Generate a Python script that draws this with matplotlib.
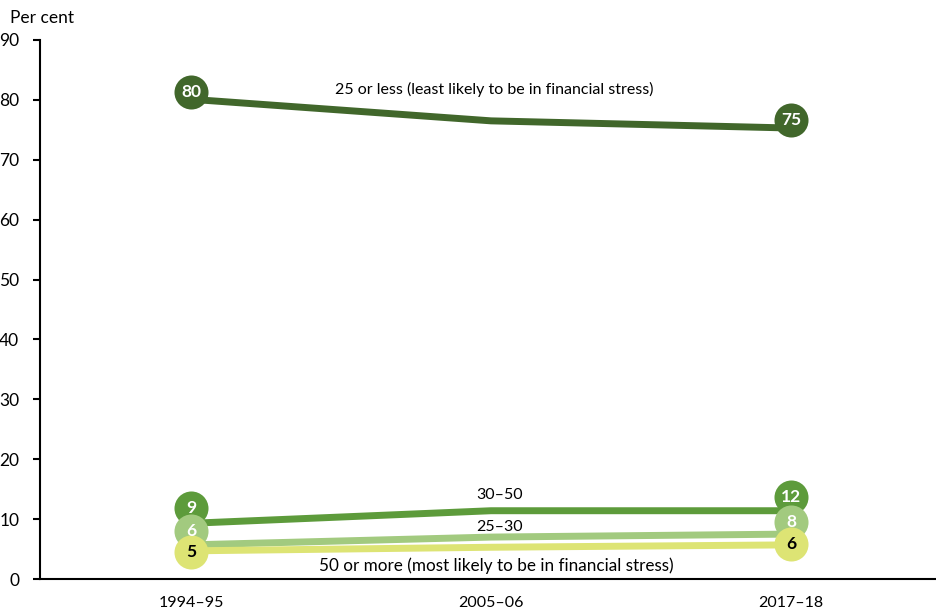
import matplotlib.pyplot as plt

plt.rcParams['font.family'] = ['Lato', 'DejaVu Sans']

years = ["1994–95", "2005–06", "2017–18"]

# share of households by housing cost ratio group (per cent)
low = [80.1, 76.5, 75.3]       # 25 or less
mid = [9.3, 11.4, 11.4]        # 30–50
lowmid = [5.7, 7.0, 7.5]       # 25–30
high = [4.7, 5.3, 5.7]         # 50 or more

# rounded values shown in the end-point circles
low_lab = ["80", "75"]
mid_lab = ["9", "12"]
lowmid_lab = ["6", "8"]
high_lab = ["5", "6"]

# vertical spots of the circles (nudged so they don't overlap)
low_pos = [81.3, 76.6]
mid_pos = [11.9, 13.7]
lowmid_pos = [8.0, 9.5]
high_pos = [4.5, 5.8]

c_low = "#41672b"
c_mid = "#5d9b3b"
c_lowmid = "#a2ca7f"
c_high = "#dde474"

fig = plt.figure(figsize=(9.36, 6.08), dpi=100)
ax = fig.add_axes([40 / 936, 29 / 608, 896 / 936, 539 / 608])

x = range(len(years))
series = [
    (low, low_lab, low_pos, c_low, "white"),
    (mid, mid_lab, mid_pos, c_mid, "white"),
    (lowmid, lowmid_lab, lowmid_pos, c_lowmid, "white"),
    (high, high_lab, high_pos, c_high, "black"),
]
for vals, labs, pos, col, tcol in series:
    ax.plot(x, vals, color=col, lw=5, solid_capstyle="butt", zorder=2)

for vals, labs, pos, col, tcol in series:
    ends = [0, len(years) - 1]
    for i, e in enumerate(ends):
        ax.plot(e, pos[i], "o", ms=24.5, color=col, mec="none", zorder=3)
        ax.text(e, pos[i], labs[i], ha="center", va="center", color=tcol,
                fontsize=12.5, fontweight="bold", zorder=4)

ax.text(1.01, 81.8, "25 or less (least likely to be in financial stress)",
        ha="center", va="center", fontsize=11.5)
ax.text(1.03, 14.0, "30–50", ha="center", va="center", fontsize=11.5)
ax.text(1.03, 8.7, "25–30", ha="center", va="center", fontsize=11.5)
ax.text(1.017, 2.3, "50 or more (most likely to be in financial stress)",
        ha="center", va="center", fontsize=12.3)

ax.set_xlim(-0.503, 2.483)
ax.set_ylim(0, 90)
ax.set_yticks(range(0, 91, 10))
ax.set_xticks(list(x))
ax.set_xticklabels(years)
ax.tick_params(axis="x", length=0, pad=12, labelsize=11.5)
ax.tick_params(axis="y", length=5, width=1.5, labelsize=12.5, pad=10)

for s in ["top", "right"]:
    ax.spines[s].set_visible(False)
ax.spines["left"].set_linewidth(1.5)
ax.spines["bottom"].set_linewidth(1.5)

fig.text(10 / 936, 1 - 18 / 608, "Per cent", fontsize=12.5, va="center")

fig.savefig("out.png", dpi=100)
